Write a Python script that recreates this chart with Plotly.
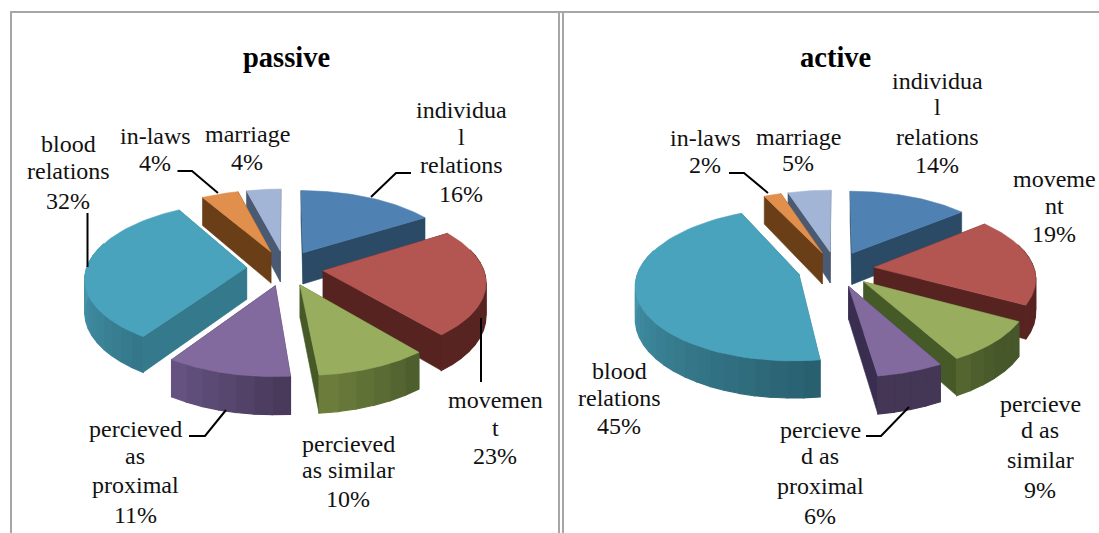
import math
import plotly.graph_objects as go

categories = ["individual relations", "movement", "percieved as similar",
              "percieved as proximal", "blood relations", "in-laws", "marriage"]
passive_values = [16, 23, 9.6, 10.7, 32.4, 4.3, 4]
active_values = [14, 19, 9, 5.7, 45.3, 2, 5]

top_colors = ["#4F81B3", "#B35652", "#98AE5E", "#826A9E", "#4AA3BD", "#E08F4C", "#A3B5D7"]
wall_colors = ["#2A4A66", "#562320", "#465A28", "#3A2E50", "#357A8C", "#6A3F17", "#4A5A72"]
arc_dark = ["#2A4A66", "#562320", "#46572A", "#443655", "#285F6E", "#6A3F17", "#4A5A72"]
arc_light = ["#2F5270", "#5A2522", "#74853F", "#6E5A8C", "#4698AF", "#6A3F17", "#4A5A72"]
arc_from = [0, 0, 135, 172, 172, 0, 0]
arc_to = [360, 360, 180, 222, 275, 360, 360]

RX, RY, PERSP, EXPLODE, DEPTH = 160, 74, 0.13, 0.24, 32


def project(u, v, cx, cy, down=0.0):
    s = 1 / (1 + PERSP * v)
    return cx + RX * u * s, cy - RY * v * s + down * s


def hex_mix(a, b, t):
    ca = [int(a[i:i + 2], 16) for i in (1, 3, 5)]
    cb = [int(b[i:i + 2], 16) for i in (1, 3, 5)]
    return "#%02x%02x%02x" % tuple(round(p + (q - p) * t) for p, q in zip(ca, cb))


fig = go.Figure()


def poly(xs, ys, color, width=0.6):
    fig.add_trace(go.Scatter(x=xs + xs[:1], y=ys + ys[:1], mode="lines", fill="toself",
                             fillcolor=color, line=dict(color=color, width=width),
                             hoverinfo="skip", showlegend=False))


def draw_pie(values, cx, cy):
    total = sum(values)
    slices, acc = [], 0
    for i, val in enumerate(values):
        a0 = 2 * math.pi * acc / total
        acc += val
        a1 = 2 * math.pi * acc / total
        mid = (a0 + a1) / 2
        slices.append((EXPLODE * math.cos(mid), i, a0, a1, EXPLODE * math.sin(mid)))
    for ov, i, a0, a1, ou in sorted(slices, reverse=True):
        n = max(3, int((a1 - a0) / math.radians(5)))
        angs = [a0 + (a1 - a0) * k / n for k in range(n + 1)]
        rim = [(ou + math.sin(a), ov + math.cos(a)) for a in angs]
        # radial walls
        for u, v in (rim[0], rim[-1]):
            p = [project(ou, ov, cx, cy), project(u, v, cx, cy),
                 project(u, v, cx, cy, DEPTH), project(ou, ov, cx, cy, DEPTH)]
            poly([q[0] for q in p], [q[1] for q in p], wall_colors[i])
        # outer curved wall, in strips
        for k in range(n):
            am = (angs[k] + angs[k + 1]) / 2
            if math.cos(am) > 0.3:
                continue
            t = min(1, max(0, (math.degrees(am) - arc_from[i]) / (arc_to[i] - arc_from[i])))
            col = hex_mix(arc_dark[i], arc_light[i], t)
            p = [project(*rim[k], cx, cy), project(*rim[k + 1], cx, cy),
                 project(*rim[k + 1], cx, cy, DEPTH), project(*rim[k], cx, cy, DEPTH)]
            poly([q[0] for q in p], [q[1] for q in p], col, 1.2)
        # top face
        fine = [a0 + (a1 - a0) * k / 60 for k in range(61)]
        p = [project(ou, ov, cx, cy)] + [project(ou + math.sin(a), ov + math.cos(a), cx, cy) for a in fine]
        poly([q[0] for q in p], [q[1] for q in p], top_colors[i])


draw_pie(passive_values, 285, 268)
draw_pie(active_values, 836, 269)

titles = [("passive", 286, 57), ("active", 835, 57)]
labels = [
    (["individua", "l", "relations", "16%"], 461, [110, 137, 165, 194]),
    (["marriage", "4%"], 247, [134, 162]),
    (["in-laws", "4%"], 155, [136, 163]),
    (["blood", "relations", "32%"], 68, [144, 171, 201]),
    (["movemen", "t", "23%"], 495, [400, 428, 456]),
    (["percieved", "as similar", "10%"], 348, [444, 470, 499]),
    (["percieved", "as", "proximal", "11%"], 135, [429, 456, 485, 515]),
    (["individua", "l", "relations", "14%"], 937, [81, 107, 137, 165]),
    (["moveme", "nt", "19%"], 1054, [179, 206, 234]),
    (["marriage", "5%"], 798, [137, 163]),
    (["in-laws", "2%"], 705, [138, 165]),
    (["percieve", "d as", "similar", "9%"], 1040, [404, 430, 460, 490]),
    (["percieve", "d as", "proximal", "6%"], 820, [430, 456, 486, 516]),
    (["blood", "relations", "45%"], 619, [371, 398, 426]),
]
leaders = [
    ([177.5, 192, 218], [171, 171, 193]),
    ([411, 396, 371], [173, 173, 197]),
    ([87.5, 87.5], [213, 267]),
    ([481, 481], [318, 382]),
    ([189, 205, 226], [436, 436, 410]),
    ([729, 744, 768], [173, 173, 193]),
    ([866, 881, 909], [436, 436, 407]),
]
frames = [([11, 11, 1099], [533, 12, 12]), ([559, 559], [12, 533]), ([563, 563], [12, 533])]

for xs, ys in frames:
    fig.add_trace(go.Scatter(x=xs, y=ys, mode="lines", line=dict(color="#A6A6A6", width=2),
                             hoverinfo="skip", showlegend=False))
for xs, ys in leaders:
    fig.add_trace(go.Scatter(x=xs, y=ys, mode="lines", line=dict(color="black", width=2),
                             hoverinfo="skip", showlegend=False))

annotations = [dict(x=x, y=y, text="<b>%s</b>" % t, showarrow=False, xanchor="center", yanchor="middle",
                    font=dict(family="Liberation Serif", size=28.5, color="black")) for t, x, y in titles]
for lines, x, ys in labels:
    for t, y in zip(lines, ys):
        annotations.append(dict(x=x, y=y, text=t, showarrow=False, xanchor="center", yanchor="middle",
                                font=dict(family="Liberation Serif", size=24, color="#111111")))

fig.update_layout(
    width=1099, height=533, margin=dict(l=0, r=0, t=0, b=0),
    paper_bgcolor="white", plot_bgcolor="white", showlegend=False,
    xaxis=dict(range=[0, 1099], visible=False, fixedrange=True),
    yaxis=dict(range=[533, 0], visible=False, fixedrange=True),
    annotations=annotations,
)
fig.write_html("out.html", config={"displayModeBar": False},
               post_script="document.body.style.margin='0';document.documentElement.style.overflow='hidden';")
